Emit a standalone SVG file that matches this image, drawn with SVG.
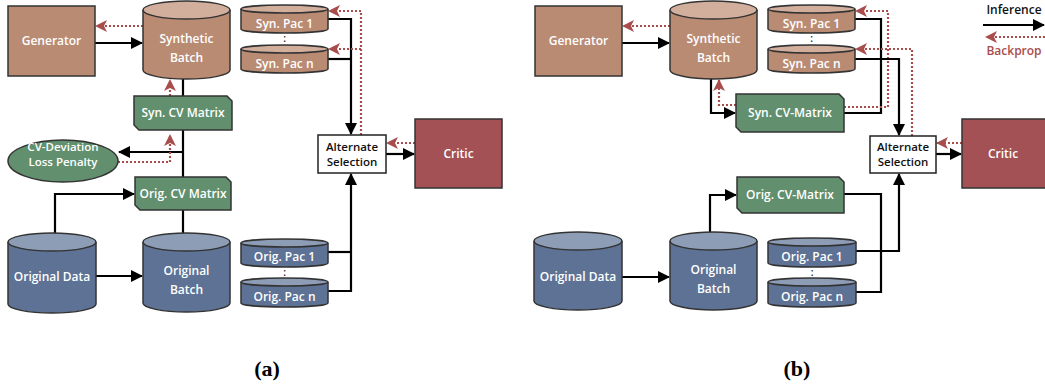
<svg xmlns="http://www.w3.org/2000/svg" width="1045" height="389" viewBox="0 0 1045 389">
<defs>
<style>
.t{font-family:"Open Sans","Liberation Sans",sans-serif;font-weight:600;font-size:12px;text-anchor:middle;fill:#fff}
.s{font-size:11.5px}
.tb{fill:#111}
.brown{fill:#BA8B73;stroke:#333;stroke-width:1.5}
.browntop{fill:#D2AE9C;stroke:#333;stroke-width:1.5}
.blue{fill:#5D7294;stroke:#333;stroke-width:1.5}
.bluetop{fill:#8D9DB6;stroke:#333;stroke-width:1.5}
.green{fill:#62906E;stroke:#333;stroke-width:1.5}
.critic{fill:#A35154;stroke:#333;stroke-width:1.5}
.white{fill:#fff;stroke:#222;stroke-width:1.5}
.k{fill:none;stroke:#000;stroke-width:2.2}
.r{fill:none;stroke:#A84C4C;stroke-width:2.2;stroke-dasharray:2 2}
.cap{font-family:"Liberation Serif",serif;font-weight:bold;font-size:22px;text-anchor:middle;fill:#000}
</style>
<marker id="ak" markerUnits="userSpaceOnUse" markerWidth="12" markerHeight="12" refX="11" refY="6" orient="auto"><path d="M0,0 L12,6 L0,12 z" fill="#000"/></marker>
<marker id="ar" markerUnits="userSpaceOnUse" markerWidth="12" markerHeight="12" refX="11" refY="6" orient="auto"><path d="M0,0 L12,6 L0,12 L3,6 z" fill="#A84C4C"/></marker>
</defs>
<rect width="1045" height="389" fill="#fff"/>

<g id="connectors">
<!-- panel a -->
<path class="k" d="M95,43 H142" marker-end="url(#ak)"/>
<path class="r" d="M143,26 H96" marker-end="url(#ar)"/>
<path class="k" d="M183,79 V96"/>
<path class="r" d="M170,96 V80" marker-end="url(#ar)"/>
<path class="k" d="M183,130 V177"/>
<path class="k" d="M183,152 H119" marker-end="url(#ak)"/>
<path class="r" d="M118,162 H170 V135" marker-end="url(#ar)"/>
<path class="k" d="M55,233 V194 H134" marker-end="url(#ak)"/>
<path class="k" d="M183,210 V233"/>
<path class="k" d="M96,276 H142" marker-end="url(#ak)"/>
<path class="k" d="M328,19 H351 V134" marker-end="url(#ak)"/>
<path class="k" d="M328,59 H351"/>
<path class="r" d="M361,135 V11 H329" marker-end="url(#ar)"/>
<path class="r" d="M361,49 H329" marker-end="url(#ar)"/>
<path class="k" d="M386,154 H414" marker-end="url(#ak)"/>
<path class="r" d="M415,143 H387" marker-end="url(#ar)"/>
<path class="k" d="M328,252 H351"/>
<path class="k" d="M328,291 H351 V174" marker-end="url(#ak)"/>
<!-- panel b -->
<path class="k" d="M622,43 H669" marker-end="url(#ak)"/>
<path class="r" d="M670,26 H623" marker-end="url(#ar)"/>
<path class="k" d="M711,79 V113 H735" marker-end="url(#ak)"/>
<path class="r" d="M736,105 H719 V80" marker-end="url(#ar)"/>
<path class="k" d="M844,113 H881 V19 H855"/>
<path class="r" d="M844,107 H888 V11 H856" marker-end="url(#ar)"/>
<path class="k" d="M855,59 H899 V135" marker-end="url(#ak)"/>
<path class="r" d="M912,136 V49 H856" marker-end="url(#ar)"/>
<path class="k" d="M936,154 H961" marker-end="url(#ak)"/>
<path class="r" d="M962,143 H937" marker-end="url(#ar)"/>
<path class="k" d="M710,232 V195 H736" marker-end="url(#ak)"/>
<path class="k" d="M844,194 H881 V292 H856"/>
<path class="k" d="M856,251 H899 V174" marker-end="url(#ak)"/>
<path class="k" d="M622,277 H669" marker-end="url(#ak)"/>
</g>

<!-- panel a nodes -->
<g id="gen-a"><rect class="brown" x="8" y="6" width="87" height="70"/><text class="t" x="51.5" y="45">Generator</text></g>
<g id="synbatch-a"><path class="brown" d="M143,10 V70 A43.5,9 0 0 0 230,70 V10"/><ellipse class="browntop" cx="186.5" cy="10" rx="43.5" ry="9"/><text class="t" x="186.5" y="43">Synthetic</text><text class="t" x="186.5" y="62">Batch</text></g>
<g id="synpac1-a"><path class="brown" d="M241,9 V29 A43.5,4 0 0 0 328,29 V9"/><ellipse class="browntop" cx="284.5" cy="9" rx="43.5" ry="4"/><text class="t" x="284.5" y="28">Syn. Pac 1</text></g>
<text class="t tb" x="284.5" y="42" style="font-size:10px">:</text>
<g id="synpacn-a"><path class="brown" d="M241,49 V69 A43.5,4 0 0 0 328,69 V49"/><ellipse class="browntop" cx="284.5" cy="49" rx="43.5" ry="4"/><text class="t" x="284.5" y="68">Syn. Pac n</text></g>
<g id="syncv-a"><path class="green" d="M134,96 H227 L232,101 V130 H139 L134,125 Z"/><text class="t" x="183" y="117">Syn. CV Matrix</text></g>
<g id="cvdev-a"><ellipse class="green" cx="63" cy="161" rx="55" ry="21"/><text class="t s" x="63" y="151">CV-Deviation</text><text class="t s" x="63" y="166">Loss Penalty</text></g>
<g id="origcv-a"><path class="green" d="M135,177 H226 L231,182 V210 H140 L135,205 Z"/><text class="t" x="183" y="198">Orig. CV Matrix</text></g>
<g id="origdata-a"><path class="blue" d="M8,242 V304 A44,9 0 0 0 96,304 V242"/><ellipse class="bluetop" cx="52" cy="242" rx="44" ry="9"/><text class="t" x="52" y="281">Original Data</text></g>
<g id="origbatch-a"><path class="blue" d="M143,242 V303 A43.5,9 0 0 0 230,303 V242"/><ellipse class="bluetop" cx="186.5" cy="242" rx="43.5" ry="9"/><text class="t" x="186.5" y="275">Original</text><text class="t" x="186.5" y="294">Batch</text></g>
<g id="origpac1-a"><path class="blue" d="M241,243 V263 A43.5,4 0 0 0 328,263 V243"/><ellipse class="bluetop" cx="284.5" cy="243" rx="43.5" ry="4"/><text class="t" x="284.5" y="261">Orig. Pac 1</text></g>
<text class="t tb" x="284.5" y="276" style="font-size:10px">:</text>
<g id="origpacn-a"><path class="blue" d="M241,282 V303 A43.5,4 0 0 0 328,303 V282"/><ellipse class="bluetop" cx="284.5" cy="282" rx="43.5" ry="4"/><text class="t" x="284.5" y="301">Orig. Pac n</text></g>
<g id="alt-a"><rect class="white" x="318" y="135" width="68" height="38"/><text class="t tb s" x="352" y="151">Alternate</text><text class="t tb s" x="352" y="166">Selection</text></g>
<g id="critic-a"><rect class="critic" x="415" y="119" width="87" height="69"/><text class="t" x="458.5" y="158">Critic</text></g>

<!-- panel b nodes -->
<g id="gen-b"><rect class="brown" x="535" y="6" width="87" height="70"/><text class="t" x="578.5" y="45">Generator</text></g>
<g id="synbatch-b"><path class="brown" d="M670,10 V70 A43.5,9 0 0 0 757,70 V10"/><ellipse class="browntop" cx="713.5" cy="10" rx="43.5" ry="9"/><text class="t" x="713.5" y="43">Synthetic</text><text class="t" x="713.5" y="62">Batch</text></g>
<g id="synpac1-b"><path class="brown" d="M768,9 V29 A43.5,4 0 0 0 855,29 V9"/><ellipse class="browntop" cx="811.5" cy="9" rx="43.5" ry="4"/><text class="t" x="811.5" y="28">Syn. Pac 1</text></g>
<text class="t tb" x="811.5" y="42" style="font-size:10px">:</text>
<g id="synpacn-b"><path class="brown" d="M768,49 V69 A43.5,4 0 0 0 855,69 V49"/><ellipse class="browntop" cx="811.5" cy="49" rx="43.5" ry="4"/><text class="t" x="811.5" y="68">Syn. Pac n</text></g>
<g id="syncv-b"><path class="green" d="M736,94 H839 L844,99 V132 H741 L736,127 Z"/><text class="t" x="790" y="117">Syn. CV-Matrix</text></g>
<g id="origcv-b"><path class="green" d="M737,177 H839 L844,182 V213 H742 L737,208 Z"/><text class="t" x="790" y="199">Orig. CV-Matrix</text></g>
<g id="origdata-b"><path class="blue" d="M534,241 V301 A44,9 0 0 0 622,301 V241"/><ellipse class="bluetop" cx="578" cy="241" rx="44" ry="9"/><text class="t" x="578" y="281">Original Data</text></g>
<g id="origbatch-b"><path class="blue" d="M670,241 V301 A43.5,9 0 0 0 757,301 V241"/><ellipse class="bluetop" cx="713.5" cy="241" rx="43.5" ry="9"/><text class="t" x="713.5" y="274">Original</text><text class="t" x="713.5" y="293">Batch</text></g>
<g id="origpac1-b"><path class="blue" d="M768,242 V263 A44,4 0 0 0 856,263 V242"/><ellipse class="bluetop" cx="812" cy="242" rx="44" ry="4"/><text class="t" x="812" y="261">Orig. Pac 1</text></g>
<text class="t tb" x="812" y="276" style="font-size:10px">:</text>
<g id="origpacn-b"><path class="blue" d="M768,282 V303 A44,4 0 0 0 856,303 V282"/><ellipse class="bluetop" cx="812" cy="282" rx="44" ry="4"/><text class="t" x="812" y="301">Orig. Pac n</text></g>
<g id="alt-b"><rect class="white" x="870" y="136" width="66" height="37"/><text class="t tb s" x="903" y="151">Alternate</text><text class="t tb s" x="903" y="166">Selection</text></g>
<g id="critic-b"><rect class="critic" x="962" y="119" width="87" height="69"/><text class="t" x="1003" y="158">Critic</text></g>

<g id="legend">
<text class="t tb" x="1014" y="14">Inference</text>
<path class="k" d="M983,25 H1044" marker-end="url(#ak)"/>
<path class="r" d="M1045,37 H986" marker-end="url(#ar)"/>
<text class="t" x="1014" y="55" style="fill:#A84C4C">Backprop</text>
</g>

<text class="cap" x="267" y="376">(a)</text>
<text class="cap" x="797" y="376">(b)</text>
</svg>
